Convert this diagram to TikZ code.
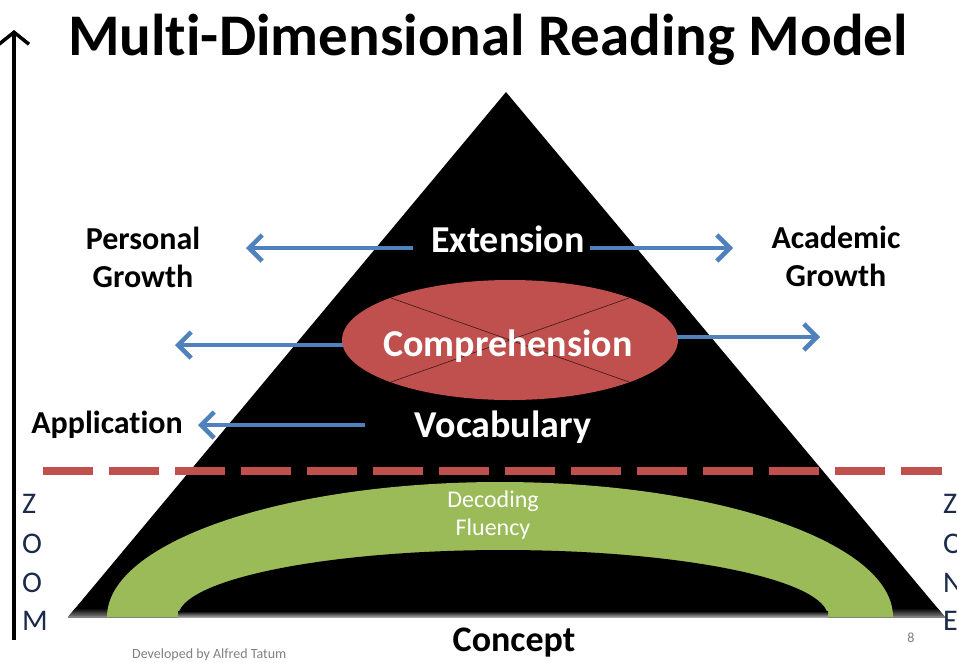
\documentclass[tikz,border=0pt]{standalone}
\usepackage{fontspec}
\setmainfont{Carlito}[Ligatures={NoCommon}]
\usetikzlibrary{arrows.meta,shapes.geometric}
\definecolor{blueA}{HTML}{4F81BD}
\definecolor{redA}{HTML}{C0504D}
\definecolor{greenA}{HTML}{9BBB59}
\definecolor{navyA}{HTML}{1C2B4A}
\definecolor{greyA}{HTML}{808080}
\begin{document}
\begin{tikzpicture}[x=1pt,y=-1pt,
  blarrow/.style={draw=blueA,line width=4.5pt,-{Straight Barb[length=13pt,width=26pt]}},
  sidetext/.style={font=\fontsize{32}{38}\selectfont\bfseries,align=center,anchor=base},
  intext/.style={font=\fontsize{38}{40}\selectfont\bfseries,text=white,anchor=base},
  zoomtext/.style={font=\fontsize{30}{32}\selectfont,text=navyA,anchor=base west,inner sep=0pt},
  greentext/.style={font=\fontsize{24}{26}\selectfont,text=white,anchor=base,inner sep=0pt}]
\useasboundingbox (0,0) rectangle (957,662);
\fill[white] (0,0) rectangle (957,662);

% title
\node[font=\fontsize{59}{62}\selectfont\bfseries,anchor=base] (title) at (488,55) {Multi-Dimensional Reading Model};

% vertical zoom arrow
\coordinate (zb) at (14,640);
\coordinate (zt) at (14,30);
\draw[line width=3.5pt,-{Straight Barb[length=12pt,width=30pt]}] (zb) -- (zt);

% triangle
\coordinate (apex) at (506,92);
\coordinate (bl) at (68,617);
\coordinate (br) at (945,617);
\fill[black] (apex) -- (bl) -- (br) -- cycle;
\begin{scope}
\clip (apex) -- (bl) -- (br) -- cycle;
\shade[top color=black,bottom color=greyA] (60,608) rectangle (950,617);
\end{scope}
\draw[greyA,line width=1.5pt] (bl) -- (br);

% green arch
\fill[greenA] (107,617) arc[start angle=180,end angle=360,x radius=393,y radius=135] -- cycle;
\fill[black] (178,617) arc[start angle=180,end angle=360,x radius=325,y radius=67] -- cycle;
\shade[top color=black,bottom color=greyA!70] (178,611) rectangle (828,617);
\node[greentext] (dec) at (493,507) {Decoding};
\node[greentext] (flu) at (493,535) {Fluency};

% dashed line
\coordinate (dl) at (43,471);
\coordinate (dr) at (942,471);
\draw[redA,line width=8pt,dash pattern=on 50pt off 16pt] (dl) -- (dr);

% comprehension ellipse
\node[ellipse,fill=redA,minimum width=336pt,minimum height=120pt,inner sep=0pt] (comp) at (510,340) {};
\draw[black!70!redA,line width=0.6pt] (391,298) -- (629,382);
\draw[black!70!redA,line width=0.6pt] (629,298) -- (391,382);
\node[intext] (comptext) at (508,356) {Comprehension};

% inner labels
\node[intext] (ext) at (508,252) {Extension};
\node[intext] (voc) at (503,437) {Vocabulary};

% outer labels
\node[sidetext] (pers) at (143,287) {Personal\\Growth};
\node[sidetext] (acad) at (836,286) {Academic\\Growth};
\node[sidetext] (app) at (107,433) {Application};

% arrows
\coordinate (a1s) at (413,248); \coordinate (a1e) at (246,248);
\coordinate (a2s) at (590,248); \coordinate (a2e) at (733,248);
\coordinate (a3s) at (343,345); \coordinate (a3e) at (175,345);
\coordinate (a4s) at (677,337); \coordinate (a4e) at (820,337);
\coordinate (a5s) at (365,425); \coordinate (a5e) at (198,425);
\draw[blarrow] (a1s) -- (a1e);
\draw[blarrow] (a2s) -- (a2e);
\draw[blarrow] (a3s) -- (a3e);
\draw[blarrow] (a4s) -- (a4e);
\draw[blarrow] (a5s) -- (a5e);

% zoom letters left
\node[zoomtext] (zl1) at (22,513) {Z};
\node[zoomtext] (zl2) at (22,553) {O};
\node[zoomtext] (zl3) at (22,592) {O};
\node[zoomtext] (zl4) at (22,630) {M};
% zoom letters right
\node[zoomtext] (zr1) at (943,513) {Z};
\node[zoomtext] (zr2) at (943,553) {O};
\node[zoomtext] (zr3) at (943,592) {N};
\node[zoomtext] (zr4) at (943,630) {E};

% bottom
\node[font=\fontsize{36}{38}\selectfont\bfseries,anchor=base,inner sep=0pt] (concept) at (514,651) {Concept};
\node[font=\fontsize{14}{16}\selectfont,text=greyA,anchor=base west,inner sep=0pt] (dev) at (132,658) {Developed by Alfred Tatum};
\node[font=\fontsize{14}{16}\selectfont,text=greyA,anchor=base,inner sep=0pt] (pg) at (911,642) {8};
\end{tikzpicture}
\end{document}
